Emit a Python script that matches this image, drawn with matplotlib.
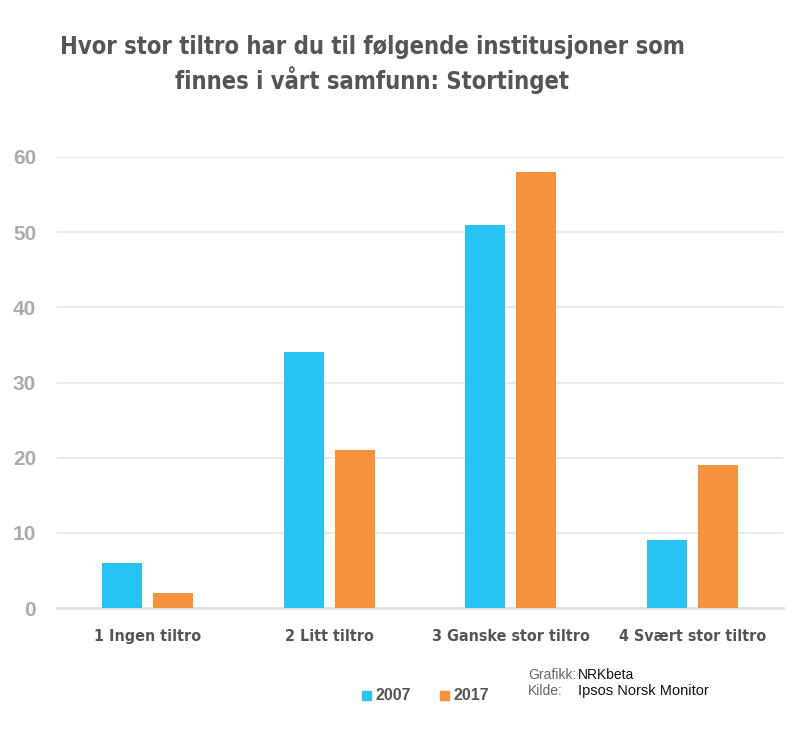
import matplotlib
matplotlib.use('Agg')
import matplotlib.pyplot as plt
import numpy as np
from matplotlib.patches import Rectangle
from matplotlib import font_manager

categories = ['1 Ingen tiltro', '2 Litt tiltro', '3 Ganske stor tiltro', '4 Svært stor tiltro']
values_2007 = [6, 34, 51, 9]
values_2017 = [2, 21, 58, 19]
series_labels = ['2007', '2017']
yticks = [0, 10, 20, 30, 40, 50, 60]

COLOR_2007 = '#27C3F3'
COLOR_2017 = '#F7923C'

# condensed bold face for title and category labels
cond = font_manager.FontProperties(family='DejaVu Sans', stretch='condensed', weight='bold')

fig = plt.figure(figsize=(8, 7.3), dpi=100)
ax = fig.add_axes([57 / 800, 1 - 608 / 730, 726 / 800, (608 - 157) / 730])

x = np.arange(len(categories))
w = 0.22
ax.bar(x - 0.14, values_2007, width=w, color=COLOR_2007, zorder=3)
ax.bar(x + 0.14, values_2017, width=w, color=COLOR_2017, zorder=3)

ax.set_xlim(-0.5, 3.5)
ax.set_ylim(0, 60)
ax.set_yticks(yticks)
ax.set_yticklabels([str(t) for t in yticks], color='#ABABAB', fontsize=15,
                   fontweight='bold', family=['Liberation Sans', 'DejaVu Sans'])
ax.set_xticks(x)
ax.set_xticklabels(categories, color='#555555', fontproperties=cond.copy())
for t in ax.get_xticklabels():
    t.set_fontsize(11.5)
ax.tick_params(axis='both', length=0)
ax.tick_params(axis='y', pad=15)
ax.tick_params(axis='x', pad=15)
ax.grid(axis='y', color='#E8E8E8', lw=1.2, zorder=0)
for s in ax.spines.values():
    s.set_visible(False)
ax.axhline(0, color='#E0E0E0', lw=2, zorder=2, clip_on=False)

tp = cond.copy()
tp.set_size(17)
fig.text(0.465, 1 - 47 / 730, 'Hvor stor tiltro har du til følgende institusjoner som',
         ha='center', va='center', color='#555555', fontproperties=tp)
fig.text(0.465, 1 - 80 / 730, 'finnes i vårt samfunn: Stortinget',
         ha='center', va='center', color='#555555', fontproperties=tp)

# legend
for xs, col, lab in [(362, COLOR_2007, series_labels[0]), (440, COLOR_2017, series_labels[1])]:
    fig.patches.append(Rectangle((xs / 800, 1 - 700 / 730), 9 / 800, 9 / 730,
                                 color=col, transform=fig.transFigure, figure=fig))
    fig.text((xs + 13) / 800, 1 - 696 / 730, lab, ha='left', va='center', fontsize=11.5,
             fontweight='bold', color='#555555', family=['Liberation Sans', 'DejaVu Sans'])

fig.text(528 / 800, 1 - 675 / 730, 'Grafikk:', ha='left', va='center', fontsize=10,
         color='#666666', family=['Liberation Sans', 'DejaVu Sans'])
fig.text(578 / 800, 1 - 675 / 730, 'NRKbeta', ha='left', va='center', fontsize=10,
         color='#111111', family=['Liberation Sans', 'DejaVu Sans'])
fig.text(528 / 800, 1 - 691 / 730, 'Kilde:', ha='left', va='center', fontsize=10,
         color='#666666', family=['Liberation Sans', 'DejaVu Sans'])
fig.text(578 / 800, 1 - 691 / 730, 'Ipsos Norsk Monitor', ha='left', va='center', fontsize=10.5,
         color='#111111', family=['Liberation Sans', 'DejaVu Sans'])

fig.savefig('out.png', dpi=100, facecolor='white')
